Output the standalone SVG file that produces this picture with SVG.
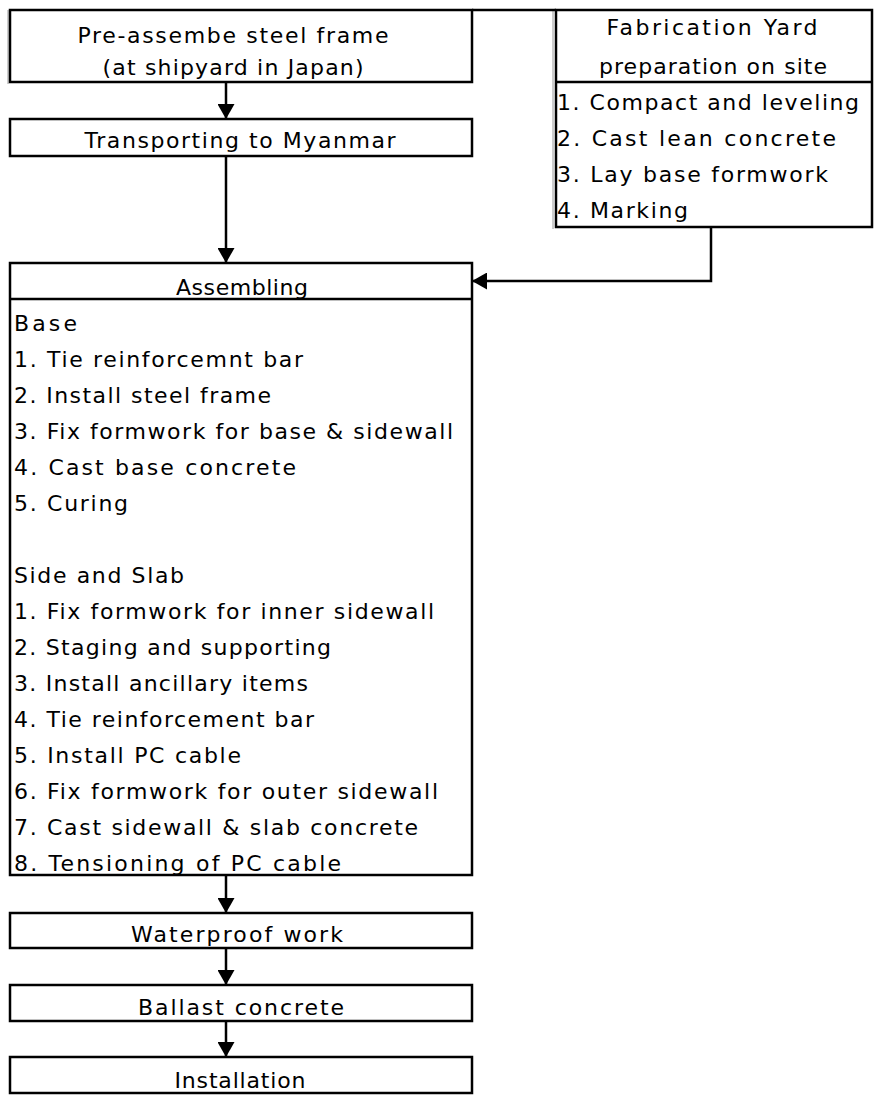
<svg xmlns="http://www.w3.org/2000/svg" width="875" height="1102" viewBox="0 0 875 1102">
  <style>
    .box { fill: #ffffff; stroke: #000000; stroke-width: 2.5; }
    .sep { stroke: #000000; stroke-width: 2.5; }
    .grid { stroke: #9a9a9a; stroke-width: 1; }
    .edge { fill: none; stroke: #000000; stroke-width: 2.5; }
    text { font-family: "DejaVu Sans", "Liberation Sans", sans-serif; font-size: 22px; fill: #000000; }
    .c { text-anchor: middle; }
  </style>
  <defs>
    <marker id="arrow" markerUnits="userSpaceOnUse" markerWidth="16" markerHeight="17" refX="15" refY="8.5" orient="auto">
      <path d="M0,0 L15,8.5 L0,17 Z" fill="#000000"/>
    </marker>
  </defs>
  <rect width="875" height="1102" fill="#ffffff"/>

  <!-- sheet border lines -->
  <line class="grid" x1="8" y1="10" x2="8" y2="84"/>
  <line class="grid" x1="553" y1="10" x2="553" y2="229"/>
  <line class="sep" x1="472" y1="10" x2="556" y2="10"/>

  <g id="pre-assemble">
    <rect class="box" x="10" y="10" width="462" height="72"/>
    <text class="c" x="233" y="43" textLength="311" lengthAdjust="spacing">Pre-assembe steel frame</text>
    <text class="c" x="233" y="75" textLength="261" lengthAdjust="spacing">(at shipyard in Japan)</text>
  </g>

  <g id="transporting">
    <rect class="box" x="10" y="119" width="462" height="37"/>
    <text class="c" x="240" y="148" textLength="311" lengthAdjust="spacing">Transporting to Myanmar</text>
  </g>

  <g id="fabrication-yard">
    <rect class="box" x="556" y="10" width="316" height="217"/>
    <line class="sep" x1="556" y1="82" x2="872" y2="82"/>
    <text class="c" x="712" y="35" textLength="211" lengthAdjust="spacing">Fabrication Yard</text>
    <text class="c" x="713" y="74" textLength="228" lengthAdjust="spacing">preparation on site</text>
    <text x="557" y="110" textLength="302" lengthAdjust="spacing">1. Compact and leveling</text>
    <text x="557" y="146" textLength="279" lengthAdjust="spacing">2. Cast lean concrete</text>
    <text x="557" y="182" textLength="271" lengthAdjust="spacing">3. Lay base formwork</text>
    <text x="557" y="218" textLength="131" lengthAdjust="spacing">4. Marking</text>
  </g>

  <g id="assembling">
    <rect class="box" x="10" y="263" width="462" height="612"/>
    <line class="sep" x1="10" y1="299" x2="472" y2="299"/>
    <text class="c" x="242" y="295" textLength="132" lengthAdjust="spacing">Assembling</text>
    <text x="14" y="331" textLength="63" lengthAdjust="spacing">Base</text>
    <text x="14" y="367" textLength="289" lengthAdjust="spacing">1. Tie reinforcemnt bar</text>
    <text x="14" y="403" textLength="257" lengthAdjust="spacing">2. Install steel frame</text>
    <text x="14" y="439" textLength="439" lengthAdjust="spacing">3. Fix formwork for base &amp; sidewall</text>
    <text x="14" y="475" textLength="282" lengthAdjust="spacing">4. Cast base concrete</text>
    <text x="14" y="511" textLength="114" lengthAdjust="spacing">5. Curing</text>
    <text x="14" y="583" textLength="170" lengthAdjust="spacing">Side and Slab</text>
    <text x="14" y="619" textLength="420" lengthAdjust="spacing">1. Fix formwork for inner sidewall</text>
    <text x="14" y="655" textLength="317" lengthAdjust="spacing">2. Staging and supporting</text>
    <text x="14" y="691" textLength="294" lengthAdjust="spacing">3. Install ancillary items</text>
    <text x="14" y="727" textLength="300" lengthAdjust="spacing">4. Tie reinforcement bar</text>
    <text x="14" y="763" textLength="227" lengthAdjust="spacing">5. Install PC cable</text>
    <text x="14" y="799" textLength="424" lengthAdjust="spacing">6. Fix formwork for outer sidewall</text>
    <text x="14" y="835" textLength="404" lengthAdjust="spacing">7. Cast sidewall &amp; slab concrete</text>
    <text x="14" y="871" textLength="327" lengthAdjust="spacing">8. Tensioning of PC cable</text>
  </g>

  <g id="waterproof">
    <rect class="box" x="10" y="913" width="462" height="35"/>
    <text class="c" x="237" y="942" textLength="212" lengthAdjust="spacing">Waterproof work</text>
  </g>

  <g id="ballast">
    <rect class="box" x="10" y="985" width="462" height="36"/>
    <text class="c" x="241" y="1015" textLength="206" lengthAdjust="spacing">Ballast concrete</text>
  </g>

  <g id="installation">
    <rect class="box" x="10" y="1057" width="462" height="36"/>
    <text class="c" x="240" y="1088" textLength="131" lengthAdjust="spacing">Installation</text>
  </g>

  <g id="connectors">
    <line class="edge" x1="226" y1="82" x2="226" y2="119" marker-end="url(#arrow)"/>
    <line class="edge" x1="226" y1="156" x2="226" y2="263" marker-end="url(#arrow)"/>
    <polyline class="edge" points="711,227 711,281 472,281" marker-end="url(#arrow)"/>
    <line class="edge" x1="226" y1="875" x2="226" y2="913" marker-end="url(#arrow)"/>
    <line class="edge" x1="226" y1="948" x2="226" y2="985" marker-end="url(#arrow)"/>
    <line class="edge" x1="226" y1="1021" x2="226" y2="1057" marker-end="url(#arrow)"/>
  </g>
</svg>
